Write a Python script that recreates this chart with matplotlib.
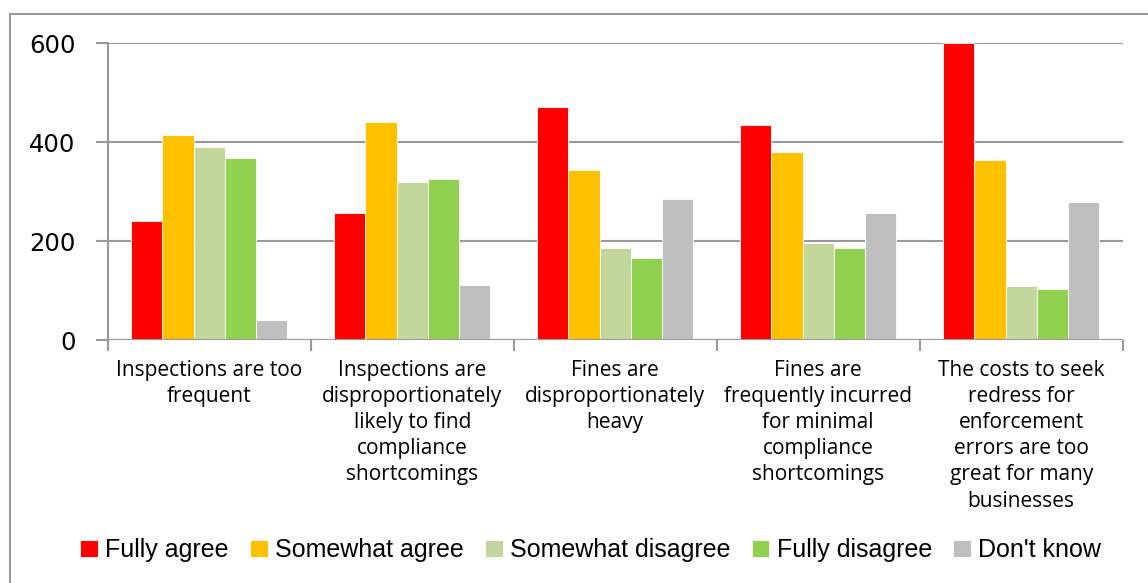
from matplotlib import pyplot as plt
from matplotlib.patches import Rectangle
import numpy as np

categories = ["Inspections are too\nfrequent",
              "Inspections are\ndisproportionately\nlikely to find\ncompliance\nshortcomings",
              "Fines are\ndisproportionately\nheavy",
              "Fines are\nfrequently incurred\nfor minimal\ncompliance\nshortcomings",
              "The costs to seek\nredress for\nenforcement\nerrors are too\ngreat for many\nbusinesses"]
series = ["Fully agree", "Somewhat agree", "Somewhat disagree", "Fully disagree", "Don't know"]
fully_agree = [241, 257, 471, 435, 600]
somewhat_agree = [415, 441, 344, 380, 365]
somewhat_disagree = [390, 319, 187, 197, 110]
fully_disagree = [368, 325, 167, 187, 104]
dont_know = [41, 112, 286, 257, 280]
colors = ["#FF0000", "#FFC000", "#C3D69B", "#92D050", "#BFBFBF"]

values = [fully_agree, somewhat_agree, somewhat_disagree, fully_disagree, dont_know]

fig = plt.figure(figsize=(11.48, 5.83), dpi=100)
ax = fig.add_axes([0.0938, 0.416, 0.978 - 0.0938, 0.926 - 0.416])

# outer chart frame (cropped on the right and bottom)
fig.patches.append(Rectangle((10 / 1148, -0.05), 1.2, 1 - 14 / 583 + 0.05,
                             transform=fig.transFigure, fill=False,
                             edgecolor="#999999", lw=1.5))

x = np.arange(len(categories))
width = 0.154
for i, (name, vals) in enumerate(zip(series, values)):
    ax.bar(x + (i - 2) * width, vals, width=width, color=colors[i],
           edgecolor="white", linewidth=0.6, label=name, zorder=3)

ax.set_xlim(-0.5, len(categories) - 0.5)
ax.set_ylim(0, 600)
ax.set_yticks([0, 200, 400, 600])
ax.yaxis.grid(True, color="#999999", lw=1.5, zorder=0)
for s in ["top", "right", "bottom"]:
    ax.spines[s].set_visible(False)
ax.spines["left"].set_color("#999999")
ax.spines["left"].set_linewidth(1.5)
ax.axhline(0, color="#999999", lw=1.5, zorder=4)

ax.set_xticks(np.arange(len(categories) + 1) - 0.5, minor=False)
ax.set_xticklabels([])
ax.tick_params(axis="x", length=8, color="#999999", width=1.5)
ax.set_xticks(x, minor=True)
ax.set_xticklabels(categories, minor=True, fontsize=15, family="Open Sans",
                   linespacing=1.32, va="top")
ax.tick_params(axis="x", which="minor", length=0, pad=14)
ax.tick_params(axis="y", length=9, color="#999999", width=1.5, pad=14)
for lab in ax.get_yticklabels():
    lab.set_fontsize(17.5)
    lab.set_family("DejaVu Sans")

ax.legend(loc="center", bbox_to_anchor=(0.476, -0.705), ncol=5, frameon=False,
          prop={"family": "Liberation Sans", "size": 18},
          handlelength=0.7, handleheight=0.7, handletextpad=0.3, columnspacing=0.85)

plt.savefig("out.png", dpi=100)
